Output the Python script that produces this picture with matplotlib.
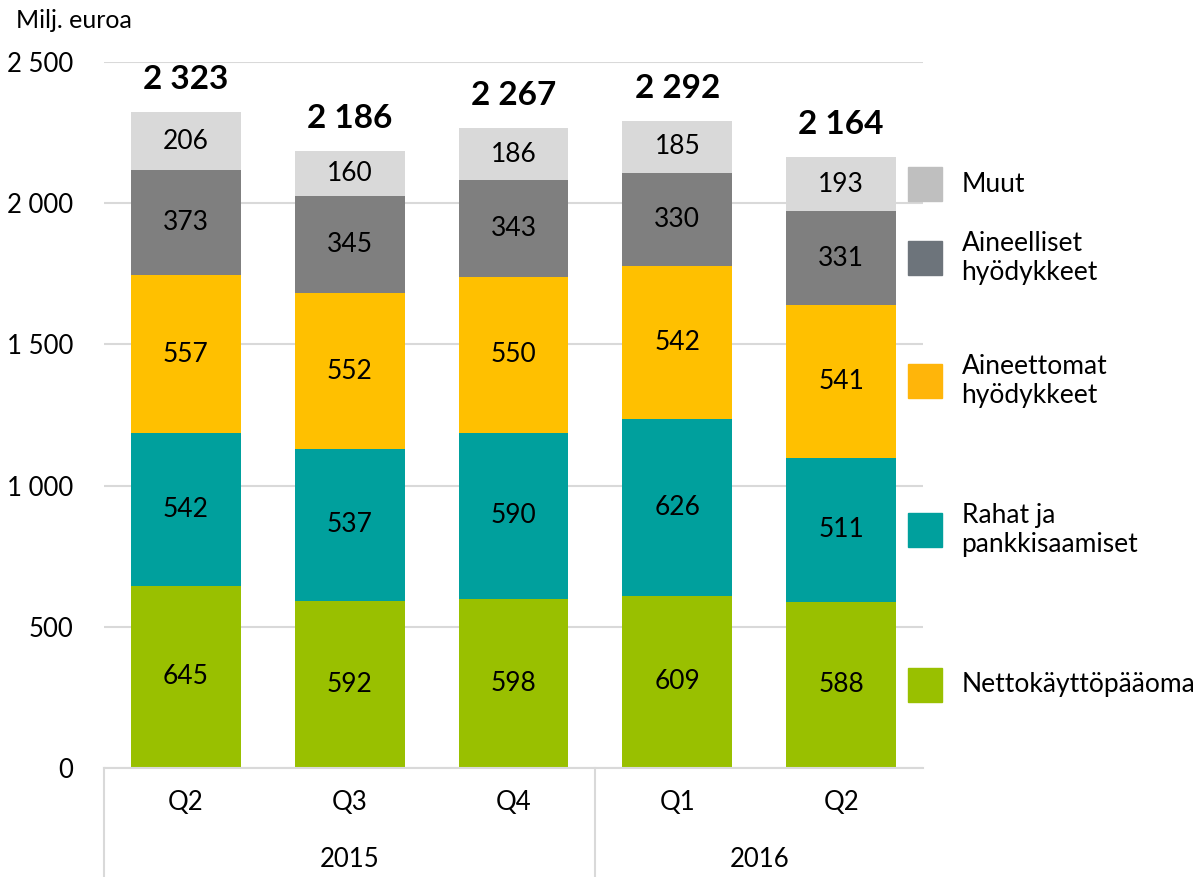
import matplotlib.pyplot as plt
import matplotlib.transforms as mtransforms

plt.rcParams['font.family'] = ['Lato', 'DejaVu Sans']

quarters = ['Q2', 'Q3', 'Q4', 'Q1', 'Q2']
years = ['2015', '2016']
year_spans = [(0, 2), (3, 4)]

series_names = ['Nettokäyttöpääoma', 'Rahat ja\npankkisaamiset', 'Aineettomat\nhyödykkeet',
                'Aineelliset\nhyödykkeet', 'Muut']
nettokayttopaaoma = [645, 592, 598, 609, 588]
rahat = [542, 537, 590, 626, 511]
aineettomat = [557, 552, 550, 542, 541]
aineelliset = [373, 345, 343, 330, 331]
muut = [206, 160, 186, 185, 193]
totals = [2323, 2186, 2267, 2292, 2164]

series = [nettokayttopaaoma, rahat, aineettomat, aineelliset, muut]
bar_colors = ['#99C000', '#00A09D', '#FFC000', '#7F7F7F', '#D9D9D9']
legend_colors = ['#99C000', '#00A09D', '#FFB50A', '#6D747B', '#BFBFBF']


def fmt(v):
    return '{:,}'.format(int(v)).replace(',', ' ')


fig = plt.figure(figsize=(12.02, 8.77), dpi=100)
ax = fig.add_axes([0.0865, 0.1243, 0.6814, 0.805])

x = list(range(len(quarters)))
bottoms = [0] * len(x)
for vals, col in zip(series, bar_colors):
    ax.bar(x, vals, bottom=bottoms, width=0.67, color=col, zorder=2)
    for i, v in enumerate(vals):
        ax.text(x[i], bottoms[i] + v / 2, fmt(v), ha='center', va='center',
                fontsize=19, color='black', zorder=3)
    bottoms = [b + v for b, v in zip(bottoms, vals)]

for i, t in enumerate(totals):
    ax.annotate(fmt(t), (x[i], bottoms[i]), xytext=(0, 13), textcoords='offset points',
                ha='center', va='bottom', fontsize=24, fontweight='bold')

ax.set_xlim(-0.5, len(x) - 0.5)
ax.set_ylim(0, 2500)
ax.set_yticks(range(0, 2501, 500))
ax.set_yticklabels([fmt(v) for v in range(0, 2501, 500)])
ax.set_xticks(x)
ax.set_xticklabels(quarters)
ax.tick_params(axis='both', length=0, labelsize=18.5)
ax.tick_params(axis='x', pad=16)
ax.tick_params(axis='y', pad=22)
ax.yaxis.grid(True, color='#D9D9D9', linewidth=1.5, zorder=0)
ax.set_axisbelow(True)
for s in ['top', 'right', 'left']:
    ax.spines[s].set_visible(False)
ax.spines['bottom'].set_color('#D9D9D9')
ax.spines['bottom'].set_linewidth(1.5)

trans = mtransforms.blended_transform_factory(ax.transData, ax.transAxes)
for sx in [-0.5, 2.5]:
    ax.plot([sx, sx], [0, -0.16], transform=trans, color='#D9D9D9', linewidth=1.5,
            clip_on=False)
for yr, (a, b) in zip(years, year_spans):
    ax.text((a + b) / 2, -0.13, yr, transform=trans, ha='center', va='center', fontsize=18.5)

# legend next to the last bar
ltrans = mtransforms.blended_transform_factory(ax.transAxes, ax.transData)
bot = 0
for name, vals, col in zip(series_names, series, legend_colors):
    mid = bot + vals[-1] / 2
    bot += vals[-1]
    ax.plot([1.0025], [mid], marker='s', markersize=24, color=col, transform=ltrans,
            clip_on=False, linestyle='none')
    ax.text(1.047, mid, name, transform=ltrans, ha='left', va='center', fontsize=19,
            linespacing=1.2)

fig.text(0.013, 0.977, 'Milj. euroa', ha='left', va='center', fontsize=18)

fig.savefig('out.png', dpi=100)
